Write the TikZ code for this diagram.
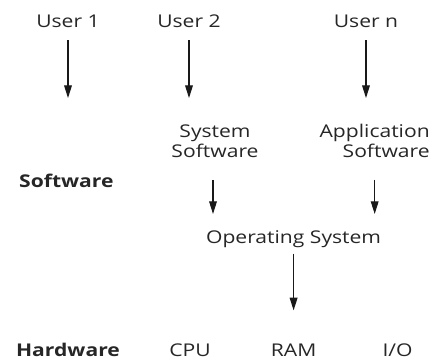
\documentclass[tikz,border=0pt]{standalone}
\usepackage{fontspec}
\setmainfont{Open Sans}[FakeStretch=1.2]
\usetikzlibrary{positioning,arrows.meta}

\begin{document}
\begin{tikzpicture}[
    txt/.style={inner sep=0pt, text=black!85, font=\fontsize{12.5}{14.2}\selectfont},
    head/.style={txt, font=\fontsize{12.5}{14.2}\selectfont\bfseries},
    arrow/.style={-{Triangle[length=9pt,width=5.5pt]}, line width=0.8pt, black!90}
]
\useasboundingbox (0,0) rectangle (10.85,-9.075);

% Users
\node[txt, anchor=base] (user1) at (1.7,-0.7) {User 1};
\node[txt, anchor=base] (user2) at (4.725,-0.7) {User 2};
\node[txt, anchor=base] (usern) at (9.15,-0.7) {User n};
\coordinate (u1end) at (1.7,-2.45);
\coordinate (u2end) at (4.725,-2.45);
\coordinate (unend) at (9.15,-2.45);

% Software layer
\node[head, anchor=base] (sw) at (1.66,-4.7) {Software};
\node[txt, align=center, anchor=south] (sys) at (5.375,-3.95) {System\\Software};
\node[txt, align=right, anchor=south east] (app) at (10.75,-3.95) {Application\\Software};
\node[txt, anchor=base] (os) at (7.34,-6.1) {Operating System};

% Hardware layer
\node[head, anchor=base] (hw) at (1.7,-8.925) {Hardware};
\node[txt, anchor=base] (cpu) at (4.75,-8.925) {CPU};
\node[txt, anchor=base] (ram) at (7.34,-8.925) {RAM};
\node[txt, anchor=base] (io) at (9.94,-8.925) {I/O};

% Arrows
\draw[arrow, shorten <=8.5pt] (user1.south) -- (u1end);
\draw[arrow, shorten <=8.5pt] (user2.south) -- (u2end);
\draw[arrow, shorten <=8.5pt] (usern.south) -- (unend);
\draw[arrow, shorten <=15.6pt, shorten >=12pt] ([xshift=-0.05cm]sys.south) -- ([xshift=-0.05cm]sys.south |- os.north);
\draw[arrow, shorten <=15.6pt, shorten >=12pt] (app.south) -- (app.south |- os.north);
\draw[arrow, shorten <=3.6pt, shorten >=24pt] (os.south) -- (ram.north);

\end{tikzpicture}
\end{document}
